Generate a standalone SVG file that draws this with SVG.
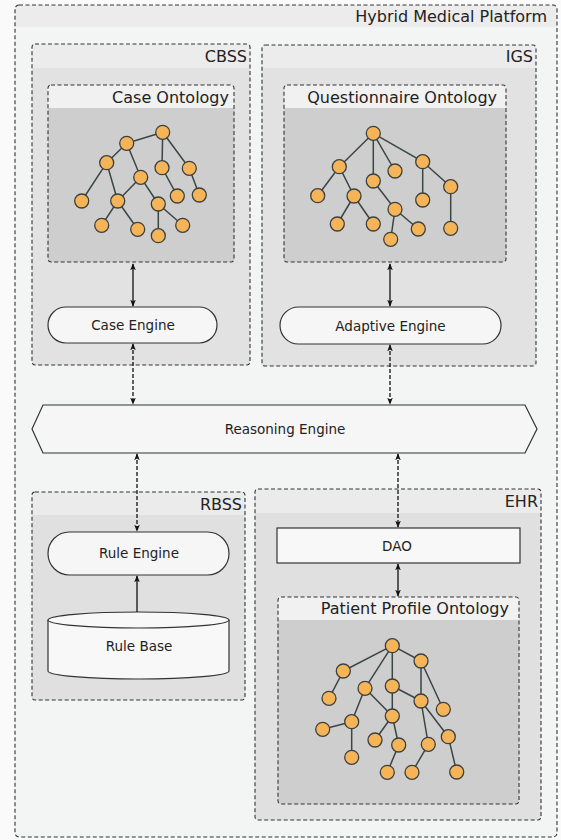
<svg xmlns="http://www.w3.org/2000/svg" width="561" height="840" viewBox="0 0 561 840">
<style>
text{font-family:"DejaVu Sans","Liberation Sans",sans-serif;fill:#222}
.box{stroke:#333;stroke-width:1.1;stroke-dasharray:4 2.5;fill:none}
.title{font-size:16px;text-anchor:end}
.lbl{font-size:13.5px;text-anchor:middle}
.pill{fill:#f6f6f6;stroke:#333;stroke-width:1.2}
.e{stroke:#3a4545;stroke-width:1.5;fill:none}
.n{fill:#f5b457;stroke:#3a4040;stroke-width:1.3}
.con{stroke:#111;stroke-width:1.3;fill:none}
.dash{stroke-dasharray:4 2}
</style>
<defs>
<marker id="ah" viewBox="0 0 10 10" refX="9" refY="5" markerWidth="7" markerHeight="7" orient="auto-start-reverse" markerUnits="userSpaceOnUse">
<path d="M0,1 L10,5 L0,9 L2.5,5 Z" fill="#111"/>
</marker>
</defs>
<rect width="561" height="840" fill="#fafafa"/>

<g id="platform">
<rect x="15" y="5" width="542" height="832" rx="4" fill="#f3f4f4"/>
<path d="M19,5 H553 Q557,5 557,9 V27 H15 V9 Q15,5 19,5 Z" fill="#ececec"/>
<rect x="15" y="5" width="542" height="832" rx="4" class="box"/>
<text x="547" y="22" class="title">Hybrid Medical Platform</text>
</g>

<g id="cbss">
<rect x="32" y="44" width="218" height="321" rx="3" fill="#e2e2e2"/>
<rect x="32" y="44" width="218" height="24" fill="#ececec"/>
<rect x="32" y="44" width="218" height="321" rx="3" class="box"/>
<text x="247" y="62" class="title">CBSS</text>
</g>

<g id="igs">
<rect x="262" y="45" width="274" height="321" rx="3" fill="#e2e2e2"/>
<rect x="262" y="45" width="274" height="23" fill="#ececec"/>
<rect x="262" y="45" width="274" height="321" rx="3" class="box"/>
<text x="533" y="62" class="title">IGS</text>
</g>

<g id="case-ontology">
<rect x="48" y="85" width="186" height="177" rx="3" fill="#cecece"/>
<rect x="48" y="85" width="186" height="23" fill="#f1f1f1"/>
<rect x="48" y="85" width="186" height="177" rx="3" class="box"/>
<text x="229" y="103" class="title">Case Ontology</text>
<g>
<path class="e" d="M162.7,132.3L126.7,143.3M162.7,132.3L162,167.7M162.7,132.3L189.3,168.3M126.7,143.3L106.7,162.7M126.7,143.3L140.7,177.3M106.7,162.7L81.7,201M106.7,162.7L117.7,201M140.7,177.3L117.7,201M140.7,177.3L158.3,204M162,167.7L177.3,196M189.3,168.3L199.3,195M117.7,201L101.7,225.3M117.7,201L137.7,229.3M158.3,204L158.3,235.7M158.3,204L182.7,225.3"/>
<g class="n">
<circle cx="162.7" cy="132.3" r="7"/><circle cx="126.7" cy="143.3" r="7"/><circle cx="106.7" cy="162.7" r="7"/><circle cx="140.7" cy="177.3" r="7"/><circle cx="162" cy="167.7" r="7"/><circle cx="189.3" cy="168.3" r="7"/><circle cx="81.7" cy="201" r="7"/><circle cx="117.7" cy="201" r="7"/><circle cx="158.3" cy="204" r="7"/><circle cx="177.3" cy="196" r="7"/><circle cx="199.3" cy="195" r="7"/><circle cx="101.7" cy="225.3" r="7"/><circle cx="137.7" cy="229.3" r="7"/><circle cx="158.3" cy="235.7" r="7"/><circle cx="182.7" cy="225.3" r="7"/>
</g>
</g>
</g>

<g id="questionnaire-ontology">
<rect x="284" y="85" width="222" height="177" rx="3" fill="#cecece"/>
<rect x="284" y="85" width="222" height="23" fill="#f1f1f1"/>
<rect x="284" y="85" width="222" height="177" rx="3" class="box"/>
<text x="497" y="103" class="title">Questionnaire Ontology</text>
<g>
<path class="e" d="M373.3,133.3L339.3,166.7M373.3,133.3L373.3,181M373.3,133.3L395,171M373.3,133.3L422.7,161.7M339.3,166.7L317.7,195.7M339.3,166.7L354,196M354,196L337.3,224M354,196L373.3,224M373.3,181L395,209.3M395,209.3L390.7,239.3M395,209.3L418.3,229M422.7,161.7L422.7,200M422.7,161.7L450.7,186.7M450.7,186.7L450.7,228.3"/>
<g class="n">
<circle cx="373.3" cy="133.3" r="7"/><circle cx="339.3" cy="166.7" r="7"/><circle cx="373.3" cy="181" r="7"/><circle cx="395" cy="171" r="7"/><circle cx="422.7" cy="161.7" r="7"/><circle cx="450.7" cy="186.7" r="7"/><circle cx="317.7" cy="195.7" r="7"/><circle cx="354" cy="196" r="7"/><circle cx="395" cy="209.3" r="7"/><circle cx="422.7" cy="200" r="7"/><circle cx="337.3" cy="224" r="7"/><circle cx="373.3" cy="224" r="7"/><circle cx="390.7" cy="239.3" r="7"/><circle cx="418.3" cy="229" r="7"/><circle cx="450.7" cy="228.3" r="7"/>
</g>
</g>
</g>

<g id="case-engine">
<rect x="48" y="307" width="169" height="36" rx="18" class="pill"/>
<text x="133" y="330" class="lbl">Case Engine</text>
</g>

<g id="adaptive-engine">
<rect x="280" y="307" width="221" height="37" rx="18.5" class="pill"/>
<text x="390.5" y="330.5" class="lbl">Adaptive Engine</text>
</g>

<g id="reasoning-engine">
<polygon points="43,405 525,405 537,429 525,453 43,453 32,429" fill="#f6f6f6" stroke="#333" stroke-width="1.2"/>
<text x="285" y="434" class="lbl">Reasoning Engine</text>
</g>

<g id="rbss">
<rect x="32" y="492" width="213" height="208" rx="3" fill="#e0e0e0"/>
<rect x="32" y="492" width="213" height="23" fill="#ebebeb"/>
<rect x="32" y="492" width="213" height="208" rx="3" class="box"/>
<text x="242" y="510" class="title">RBSS</text>
</g>

<g id="rule-engine">
<rect x="48" y="532" width="181" height="43" rx="21.5" class="pill"/>
<text x="139" y="558" class="lbl">Rule Engine</text>
</g>

<g id="rule-base">
<path d="M48,620 V671 A90.5,8 0 0 0 229,671 V620" fill="#f8f8f8" stroke="#333" stroke-width="1.2"/>
<ellipse cx="138.5" cy="620" rx="90.5" ry="8" fill="#f8f8f8" stroke="#333" stroke-width="1.2"/>
<text x="139" y="651" class="lbl">Rule Base</text>
</g>

<g id="ehr">
<rect x="255" y="489" width="286" height="331" rx="3" fill="#e0e0e0"/>
<rect x="255" y="489" width="286" height="24" fill="#ebebeb"/>
<rect x="255" y="489" width="286" height="331" rx="3" class="box"/>
<text x="538" y="507" class="title">EHR</text>
</g>

<g id="dao">
<rect x="277" y="528" width="243" height="35" fill="#f8f8f8" stroke="#333" stroke-width="1.2"/>
<text x="397" y="550.5" class="lbl">DAO</text>
</g>

<g id="patient-profile-ontology">
<rect x="278" y="597" width="241" height="207" rx="3" fill="#cecece"/>
<rect x="278" y="597" width="241" height="23" fill="#f1f1f1"/>
<rect x="278" y="597" width="241" height="207" rx="3" class="box"/>
<text x="509" y="614" class="title">Patient Profile Ontology</text>
<g>
<path class="e" d="M392.3,645.7L421,661M392.3,645.7L343.3,671M392.3,645.7L365,688.3M392.3,645.7L392.3,686M343.3,671L329,698.3M365,688.3L351.7,721.7M365,688.3L392.3,716M392.3,686L392.3,716M392.3,686L421,701M421,661L421,701M421,661L443.3,709.3M351.7,721.7L322.7,729.3M351.7,721.7L351.7,757.3M392.3,716L375,740M392.3,716L398.7,745M398.7,745L387.3,772.3M421,701L428.3,744.3M421,701L448.3,736.7M428.3,744.3L412,772.3M448.3,736.7L456.7,772"/>
<g class="n">
<circle cx="392.3" cy="645.7" r="7"/><circle cx="421" cy="661" r="7"/><circle cx="343.3" cy="671" r="7"/><circle cx="365" cy="688.3" r="7"/><circle cx="392.3" cy="686" r="7"/><circle cx="421" cy="701" r="7"/><circle cx="443.3" cy="709.3" r="7"/><circle cx="329" cy="698.3" r="7"/><circle cx="392.3" cy="716" r="7"/><circle cx="351.7" cy="721.7" r="7"/><circle cx="322.7" cy="729.3" r="7"/><circle cx="375" cy="740" r="7"/><circle cx="398.7" cy="745" r="7"/><circle cx="428.3" cy="744.3" r="7"/><circle cx="448.3" cy="736.7" r="7"/><circle cx="351.7" cy="757.3" r="7"/><circle cx="387.3" cy="772.3" r="7"/><circle cx="412" cy="772.3" r="7"/><circle cx="456.7" cy="772" r="7"/>
</g>
</g>
</g>

<g id="connectors">
<line x1="133" y1="264" x2="133" y2="306" class="con" marker-start="url(#ah)" marker-end="url(#ah)"/>
<line x1="133" y1="344" x2="133" y2="404" class="con dash" marker-start="url(#ah)" marker-end="url(#ah)"/>
<line x1="390" y1="264" x2="390" y2="306" class="con" marker-start="url(#ah)" marker-end="url(#ah)"/>
<line x1="390" y1="345" x2="390" y2="404" class="con dash" marker-start="url(#ah)" marker-end="url(#ah)"/>
<line x1="137" y1="454" x2="137" y2="531" class="con dash" marker-start="url(#ah)" marker-end="url(#ah)"/>
<line x1="137" y1="612" x2="137" y2="576" class="con" marker-end="url(#ah)"/>
<line x1="398" y1="454" x2="398" y2="527" class="con dash" marker-start="url(#ah)" marker-end="url(#ah)"/>
<line x1="398" y1="564" x2="398" y2="596" class="con" marker-start="url(#ah)" marker-end="url(#ah)"/>
</g>
</svg>
